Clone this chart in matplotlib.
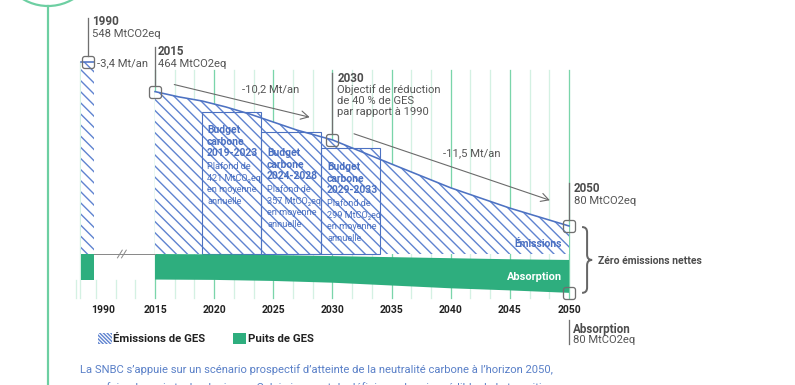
import numpy as np
import matplotlib.pyplot as plt
from matplotlib.patches import Rectangle, PathPatch, Circle, Patch
from matplotlib.path import Path

DPI = 100
plt.rcParams['font.family'] = ['Roboto', 'DejaVu Sans']
plt.rcParams['hatch.linewidth'] = 1.0

# --- data (MtCO2eq) ---
em_years = [2015, 2017, 2019, 2021, 2023, 2025, 2027, 2030, 2035, 2040, 2045, 2050]
emissions = [464, 449, 437, 420, 400, 377, 354, 326, 257, 189, 131, 80]
abs_years = [2015, 2020, 2025, 2030, 2035, 2040, 2045, 2050]
abs_top = [0, -1, -3, -6, -9, -12, -15, -17]
abs_bottom = [-73, -74, -77, -82, -90, -98, -104, -111]
em_1990 = 548
abs_1990 = -74
budget_start = [2019, 2024, 2029]
budget_end = [2024, 2029, 2034]
budget_labels = ['2019-2023', '2024-2028', '2029-2033']
budget_caps = [421, 357, 299]       # values written in the boxes
budget_heights = [406, 349, 303]    # box heights as drawn
tick_years = [2015, 2020, 2025, 2030, 2035, 2040, 2045, 2050]
rate_labels = ['-3,4 Mt/an', '-10,2 Mt/an', '-11,5 Mt/an']

BLUE = '#4d72c2'
HATCH = '#5f83d0'
TXT_BLUE = '#4a70c2'
GREEN = '#2eae7e'
GRID_DARK = '#7ad5aa'
GRID_LIGHT = '#d4f1e3'
GRAY = '#555555'
MARK = '#707070'

def pt(px):
    return px * 72 / DPI

# layout: 2015 at x=155px, 11.83 px/yr ; 0 Mt at y=254px, 0.35 px/Mt
SX, SY = 11.83, 0.35
X90 = 2009.3  # position of the 1990 column (broken axis)
HATCH_PAT = '\\\\\\'

fig = plt.figure(figsize=(795 / DPI, 385 / DPI), dpi=DPI)
bg = fig.add_axes([0, 0, 1, 1])
bg.set_xlim(0, 795)
bg.set_ylim(385, 0)
bg.axis('off')

ax = fig.add_axes([0, 0, 1, 1])
ax.set_xlim(2015 - 155 / SX, 2015 + (795 - 155) / SX)
ax.set_ylim(-(385 - 254) / SY, 254 / SY)
ax.axis('off')
ax.patch.set_visible(False)

# page decoration
bg.plot([48, 48], [6, 385], color='#6dcfa2', lw=pt(2.2))
bg.add_patch(Circle((48, -43), 49, fill=False, ec='#6dcfa2', lw=pt(2.2)))

# grid
grid_x = 2015 + np.arange(22) * 5 / 3
for i, gx in enumerate(grid_x):
    ax.plot([gx, gx], [-126, 526], color=GRID_DARK if i % 3 == 0 else GRID_LIGHT,
            lw=pt(1.3), zorder=1)
for k in range(1, 5):
    gx = 2015 - k * 5 / 3
    ax.plot([gx, gx], [abs_1990, -126], color=GRID_LIGHT, lw=pt(1.3), zorder=1)
ax.plot([X90 - 0.6, X90 - 0.6], [-126, em_1990], color=GRID_LIGHT, lw=pt(1.3), zorder=1)

# emissions (hatched)
ax.fill_between(em_years, 0, emissions, facecolor='white', edgecolor=HATCH,
                hatch=HATCH_PAT, lw=0, zorder=2)
ax.fill_between([X90 - 0.55, X90 + 0.55], 0, em_1990, facecolor='white',
                edgecolor=HATCH, hatch=HATCH_PAT, lw=0, zorder=2)
for s, e, h in zip(budget_start, budget_end, budget_heights):
    ax.add_patch(Rectangle((s, 0), e - s, h, facecolor='white', edgecolor=HATCH,
                           hatch=HATCH_PAT, lw=0, zorder=2.5))
    ax.add_patch(Rectangle((s, 0), e - s, h, facecolor='none', edgecolor=BLUE,
                           lw=pt(1.1), zorder=3))
ax.plot(em_years, emissions, color=BLUE, lw=pt(1.6), zorder=4)
ax.plot([X90 - 0.55, X90 + 0.55], [em_1990, em_1990], color=BLUE, lw=pt(1.6), zorder=4)

# absorption
ax.fill_between(abs_years, abs_bottom, abs_top, facecolor=GREEN, lw=0, zorder=4)
ax.fill_between([X90 - 0.55, X90 + 0.55], abs_1990, 0, facecolor=GREEN, lw=0, zorder=4)
ax.plot([X90 + 0.55, 2015], [0, 0], color='#8a8a8a', lw=pt(1), zorder=4)
for dx in (-0.17, 0.17):
    bx = 2012.2 + dx
    ax.plot([bx - 0.2, bx + 0.2], [-11, 11], color='#8a8a8a', lw=pt(1), zorder=5)

# rounded markers
def rounded_square(r=0.4, n=8):
    pts = []
    for cx, cy, a0 in [(1 - r, 1 - r, 0), (-1 + r, 1 - r, 90),
                       (-1 + r, -1 + r, 180), (1 - r, -1 + r, 270)]:
        for a in np.linspace(a0, a0 + 90, n):
            pts.append((cx + r * np.cos(np.radians(a)), cy + r * np.sin(np.radians(a))))
    pts.append(pts[0])
    return Path(pts, closed=True)

rs = rounded_square()
mk_x = [X90, 2015, 2030, 2050, 2050]
mk_y = [em_1990, emissions[0], emissions[em_years.index(2030)], emissions[-1], abs_bottom[-1]]
ax.plot(mk_x, mk_y, ls='none', marker=rs, ms=pt(12), mfc='none', mec=MARK,
        mew=pt(1.3), zorder=6)

# leaders
def leader(x, y0, y1):
    ax.plot([x, x], [y0, y1], color=MARK, lw=pt(1.3), zorder=6)

leader(X90, em_1990 + 17, 674)
leader(2015, emissions[0] + 17, 591)
leader(2030, emissions[em_years.index(2030)] + 17, 517)
leader(2050, emissions[-1] + 17, 203)
leader(2050, -189, -257)

fs = pt(11.2)
def label(x, y, title, lines, dy=35):
    ax.text(x, y, title, fontsize=pt(11.6), fontweight='bold', color='#4d4d4d',
            va='center_baseline', zorder=7)
    for i, t in enumerate(lines):
        ax.text(x, y - dy * (i + 1) - 2, t, fontsize=fs, color=GRAY,
                va='center_baseline', zorder=7)

label(X90 + 0.4, 668, '1990', ['548 MtCO2eq'])
label(2015.25, 583, '2015', ['464 MtCO2eq'])
label(2030.4, 506, '2030', ['Objectif de réduction', 'de 40 % de GES', 'par rapport à 1990'], dy=32)
label(2050.42, 191, '2050', ['80 MtCO2eq'])
label(2050.33, -211, 'Absorption', ['80 MtCO2eq'], dy=30)

# rates
ax.text(2010.1, em_1990, rate_labels[0], fontsize=fs, color=GRAY, va='center_baseline', zorder=7)
ax.text(2022.35, 474, rate_labels[1], fontsize=fs, color=GRAY, va='center_baseline', zorder=7)
ax.text(2039.35, 291, rate_labels[2], fontsize=fs, color=GRAY, va='center_baseline', zorder=7)
arrow = dict(arrowstyle='->,head_length=0.55,head_width=0.3', color='#6a6a6a', lw=pt(1.1))
ax.annotate('', xy=(2028.3, 389), xytext=(2016.4, 486), arrowprops=arrow, zorder=5)
ax.annotate('', xy=(2048.6, 151), xytext=(2031.6, 346), arrowprops=arrow, zorder=5)

# budget texts
bx = [2019.4, 2024.47, 2029.54]
by = [357, 291, 251]
for x, y, lab, cap in zip(bx, by, budget_labels, budget_caps):
    for i, t in enumerate(['Budget', 'carbone', lab]):
        ax.text(x, y - 33 * i, t, fontsize=pt(10.2), fontweight='bold', color=TXT_BLUE,
                va='center_baseline', zorder=7)
    for i, t in enumerate(['Plafond de', f'{cap} MtCO₂eq', 'en moyenne', 'annuelle']):
        ax.text(x, y - 104 - 33.4 * i, t, fontsize=pt(9.2), color=TXT_BLUE,
                va='center_baseline', zorder=7)

ax.text(2049.4, 31, 'Émissions', fontsize=pt(10.3), fontweight='bold', color=TXT_BLUE,
        ha='right', va='center_baseline', zorder=7)
ax.text(2049.4, -63, 'Absorption', fontsize=pt(11), fontweight='bold', color='white',
        ha='right', va='center_baseline', zorder=7)

# brace
def brace(x0, yt, yb, w):
    xm, ym = x0 + w / 2, (yt + yb) / 2
    h = (yt - yb) * 0.08
    verts = [(x0, yt), (xm, yt), (xm, yt - h), (xm, ym + h), (xm, ym), (x0 + w, ym),
             (xm, ym), (xm, ym - h), (xm, yb + h), (xm, yb), (x0, yb)]
    codes = [Path.MOVETO, Path.CURVE3, Path.CURVE3, Path.LINETO, Path.CURVE3, Path.CURVE3,
             Path.CURVE3, Path.CURVE3, Path.LINETO, Path.CURVE3, Path.CURVE3]
    ax.add_patch(PathPatch(Path(verts, codes), fill=False, ec='#666666', lw=pt(2), zorder=6))

brace(2051.1, emissions[-1] - 3, abs_bottom[-1], 0.85)
ax.text(2052.45, (emissions[-1] + abs_bottom[-1]) / 2 - 2, 'Zéro émissions nettes',
        fontsize=pt(10.4), fontweight='bold', color='#4d4d4d', va='center_baseline', zorder=7)

# x tick labels
for y in tick_years:
    ax.text(y, -157, str(y), fontsize=pt(10.4), fontweight='bold', color='#222222',
            ha='center', va='center_baseline', zorder=7)
ax.text(2010.6, -157, '1990', fontsize=pt(10.4), fontweight='bold', color='#222222',
        ha='center', va='center_baseline', zorder=7)

# legend
handles = [Patch(facecolor='white', edgecolor=HATCH, hatch='\\' * 9, lw=0,
                 label='Émissions de GES'),
           Patch(facecolor=GREEN, lw=0, label='Puits de GES')]
leg = ax.legend(handles=handles, loc='upper left', bbox_to_anchor=(98 / 795, 1 - 333 / 385),
                ncol=2, frameon=False, borderpad=0, borderaxespad=0, handlelength=1.2,
                handleheight=1.1, handletextpad=0.12, columnspacing=2.4,
                prop=dict(weight='bold', size=pt(11.4)))
for t in leg.get_texts():
    t.set_color('#222222')

# paragraph
bg.text(80, 369, 'La SNBC s’appuie sur un scénario prospectif d’atteinte de la neutralité '
        'carbone à l’horizon 2050,', fontsize=pt(11.2), color='#5a80c8', va='center_baseline')
bg.text(80, 387, 'sans faire de paris technologiques. Celui-ci permet de définir un chemin '
        'crédible de la transition vers', fontsize=pt(11.2), color='#5a80c8', va='center_baseline')

fig.savefig('out.png', dpi=DPI)
